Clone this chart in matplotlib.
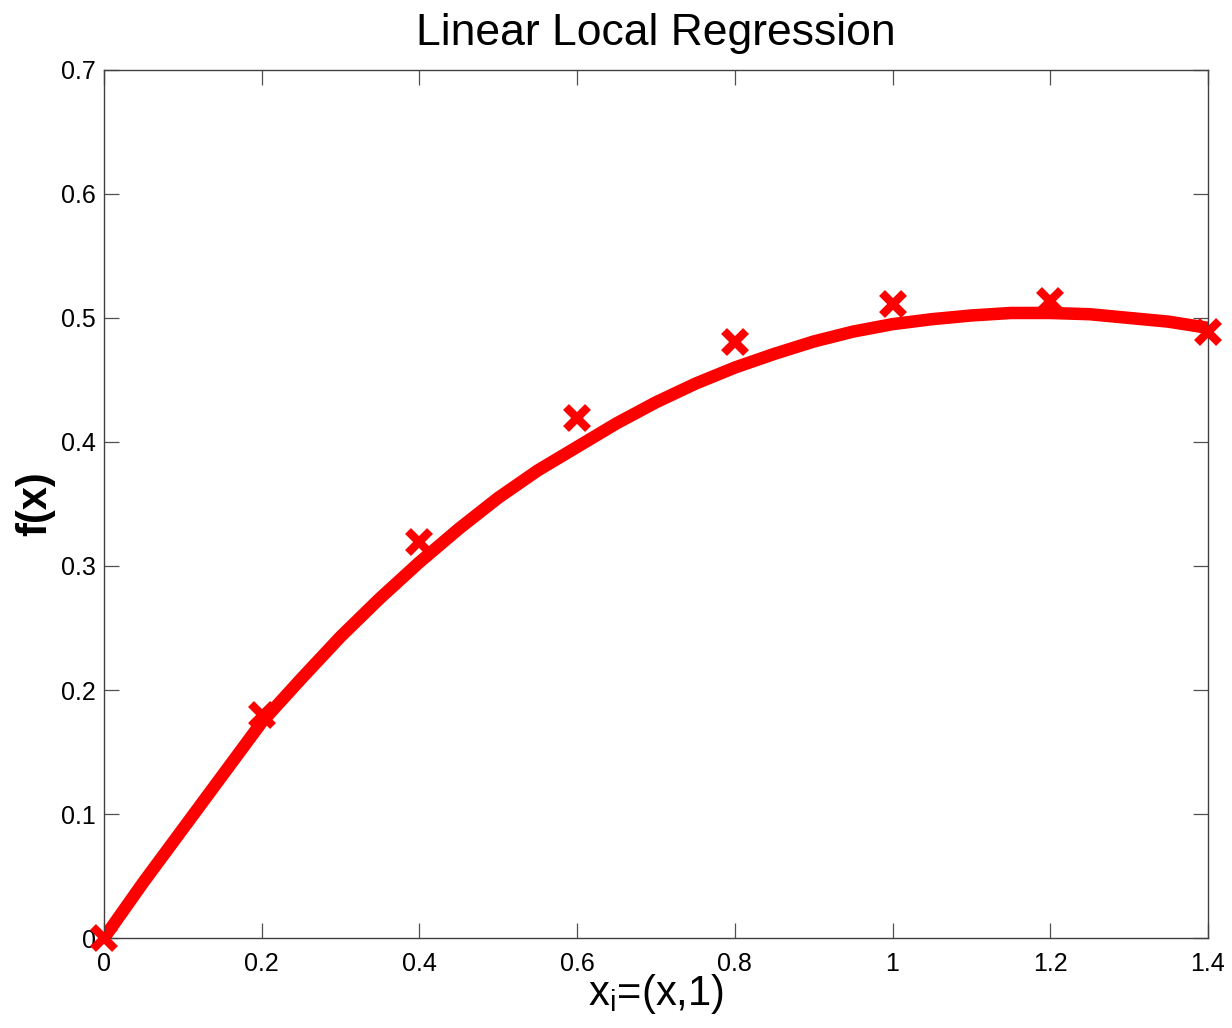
import matplotlib
matplotlib.use("Agg")
import matplotlib.pyplot as plt
from matplotlib.ticker import FuncFormatter

# training points (x, f(x))
x_pts = [0.0, 0.2, 0.4, 0.6, 0.8, 1.0, 1.2, 1.4]
y_pts = [0.0, 0.180, 0.319, 0.419, 0.481, 0.511, 0.514, 0.489]

# local regression fit
x_fit = [0.00, 0.05, 0.10, 0.15, 0.20, 0.25, 0.30, 0.35, 0.40, 0.45,
         0.50, 0.55, 0.60, 0.65, 0.70, 0.75, 0.80, 0.85, 0.90, 0.95,
         1.00, 1.05, 1.10, 1.15, 1.20, 1.25, 1.30, 1.35, 1.40]
y_fit = [0.000, 0.045, 0.088, 0.131, 0.174, 0.209, 0.243, 0.274, 0.303, 0.330,
         0.355, 0.377, 0.396, 0.415, 0.432, 0.447, 0.460, 0.471, 0.481, 0.489,
         0.495, 0.499, 0.502, 0.504, 0.504, 0.503, 0.500, 0.497, 0.492]

x_ticks = [0, 0.2, 0.4, 0.6, 0.8, 1.0, 1.2, 1.4]
y_ticks = [0, 0.1, 0.2, 0.3, 0.4, 0.5, 0.6, 0.7]

plt.rcParams["font.family"] = ["Liberation Sans", "DejaVu Sans"]
plt.rcParams["mathtext.fontset"] = "custom"
plt.rcParams["mathtext.rm"] = "Liberation Sans"

fig = plt.figure(figsize=(12.32, 10.28), dpi=100)
ax = fig.add_axes([0.0844, 0.0875, 0.8961, 0.8445])

ax.plot(x_fit, y_fit, color="#ff0000", linewidth=9, solid_joinstyle="round",
        solid_capstyle="butt", zorder=2)
ax.plot(x_pts, y_pts, linestyle="none", marker="x", color="#ff0000",
        markersize=16, markeredgewidth=6, clip_on=False, zorder=3)

ax.set_xlim(0, 1.4)
ax.set_ylim(0, 0.7)
ax.set_xticks(x_ticks)
ax.set_yticks(y_ticks)
ax.xaxis.set_major_formatter(FuncFormatter(lambda v, p: f"{v:g}"))
ax.yaxis.set_major_formatter(FuncFormatter(lambda v, p: f"{v:g}"))
ax.tick_params(direction="in", length=11, width=0.9, color="#505050",
               top=True, right=True, labelsize=18, pad=6)
ax.tick_params(axis="x", pad=10)
for s in ax.spines.values():
    s.set_linewidth(1.0)
    s.set_color("#404040")

ax.set_title("Linear Local Regression", fontsize=32, pad=18)
ax.set_xlabel("x$_\\mathregular{i}$=(x,1)", fontsize=30, labelpad=-3)
ax.set_ylabel("f(x)", fontsize=30, fontweight="bold", labelpad=4)

fig.savefig("out.png", dpi=100)
